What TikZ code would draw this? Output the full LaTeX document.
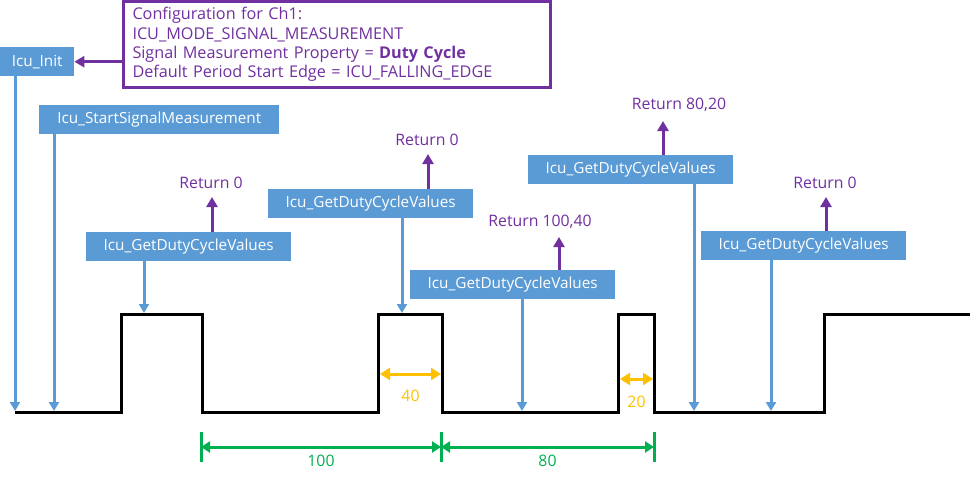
\documentclass[tikz,border=0pt]{standalone}
\usepackage{fontspec}
\setmainfont{Open Sans}
\usepackage{xcolor}
\usepackage{tikz}
\usetikzlibrary{arrows.meta, positioning}

\definecolor{icublue}{HTML}{5B9BD5}
\definecolor{icupurple}{HTML}{7030A0}
\definecolor{icuyellow}{HTML}{FFC000}
\definecolor{icugreen}{HTML}{00B050}

\begin{document}
\begin{tikzpicture}[
        x=1pt, y=-1pt,
        font=\fontsize{15.8}{19.3}\selectfont,
        call/.style={fill=icublue, text=white, minimum height=29pt, inner sep=0pt, anchor=north west,
            font=\fontsize{15.3}{18}\selectfont},
        getcall/.style={call, minimum width=205pt},
        config/.style={draw=icupurple, line width=3pt, text=icupurple, align=left,
            text width=409pt, inner xsep=9pt, minimum height=86pt,
            font=\fontsize{16.2}{19.3}\selectfont},
        retlabel/.style={text=icupurple, inner sep=0pt},
        callline/.style={draw=icublue, line width=3pt, -{Triangle[length=9pt, width=10pt]}},
        retline/.style={draw=icupurple, line width=3pt, -{Triangle[length=10pt, width=11pt]}},
        signal/.style={draw, line width=3pt},
        hightime/.style={draw=icuyellow, line width=3pt,
            {Triangle[length=10pt, width=12pt]}-{Triangle[length=10pt, width=12pt]}},
        periodline/.style={draw=icugreen, line width=3pt,
            {Triangle[length=9pt, width=11pt]}-{Triangle[length=9pt, width=11pt]}},
        periodtick/.style={draw=icugreen, line width=3pt},
    ]
        \useasboundingbox (0,0) rectangle (970,480);

        \node[call, minimum width=74pt] (init) at (0,47) {Icu\_Init};
        \node[call, minimum width=240pt] (start) at (39,105) {Icu\_StartSignalMeasurement};
        \node[config] (cfg) at (337,44.5) {Configuration for Ch1:\\
            ICU\_MODE\_SIGNAL\_MEASUREMENT\\
            Signal Measurement Property = \textbf{Duty Cycle}\\
            Default Period Start Edge = ICU\_FALLING\_EDGE};

        \node[getcall] (get1) at (86,232) {Icu\_GetDutyCycleValues};
        \node[getcall] (get2) at (268,189) {Icu\_GetDutyCycleValues};
        \node[getcall] (get3) at (410,270) {Icu\_GetDutyCycleValues};
        \node[getcall] (get4) at (528,155) {Icu\_GetDutyCycleValues};
        \node[getcall] (get5) at (701,231) {Icu\_GetDutyCycleValues};

        \node[retlabel] (ret1) at (211,183) {Return 0};
        \node[retlabel] (ret2) at (427,140) {Return 0};
        \node[retlabel] (ret3) at (540,222) {Return 100,40};
        \node[retlabel] (ret4) at (679,105) {Return 80,20};
        \node[retlabel] (ret5) at (825,183) {Return 0};

        % input signal
        \draw[signal] (15,412) -- (121,412) -- (121,314) -- (202,314) -- (202,412)
            -- (378,412) -- (378,314) -- (442,314) -- (442,412) -- (618,412)
            -- (618,314) -- (654,314) -- (654,412) -- (824,412) -- (824,314) -- (970,314);

        \coordinate (hit0) at (15,411);
        \coordinate (hit00) at (54,411);
        \coordinate (hit1) at (144,313);
        \coordinate (hit2) at (402,313);
        \coordinate (hit3) at (522,411);
        \coordinate (hit4) at (694,411);
        \coordinate (hit5) at (771,411);

        \coordinate (tip1) at (212,197);
        \coordinate (tip2) at (428,154);
        \coordinate (tip3) at (559,237);
        \coordinate (tip4) at (663,121);
        \coordinate (tip5) at (826,197);

        \path[retline] (cfg.west |- init.east) -- (init.east);
        \foreach \b/\h in {init/hit0, start/hit00, get1/hit1, get2/hit2, get3/hit3, get4/hit4, get5/hit5}
            \path[callline] (\b.south -| \h) -- (\h);
        \foreach \b/\t in {get1/tip1, get2/tip2, get3/tip3, get4/tip4, get5/tip5}
            \path[retline] (\b.north -| \t) -- (\t);

        \path[hightime] (380,374) -- (441,374)
            node[midway, below=15pt, inner sep=0pt, text=icuyellow] (w40) {40};
        \path[hightime] (620,379) -- (653,379)
            node[midway, below=16pt, inner sep=0pt, text=icuyellow] (w20) {20};

        \foreach \x/\n in {201/a, 441/b, 654/c}
            \path[periodtick] (\x,432) -- (\x,462) coordinate[midway] (p\n);
        \path[periodline] (pa) -- (pb) node[midway, below=7pt, inner sep=0pt, text=icugreen] (t100) {100};
        \path[periodline] (pb) -- (pc) node[midway, below=7pt, inner sep=0pt, text=icugreen] (t80) {80};
    \end{tikzpicture}
\end{document}
